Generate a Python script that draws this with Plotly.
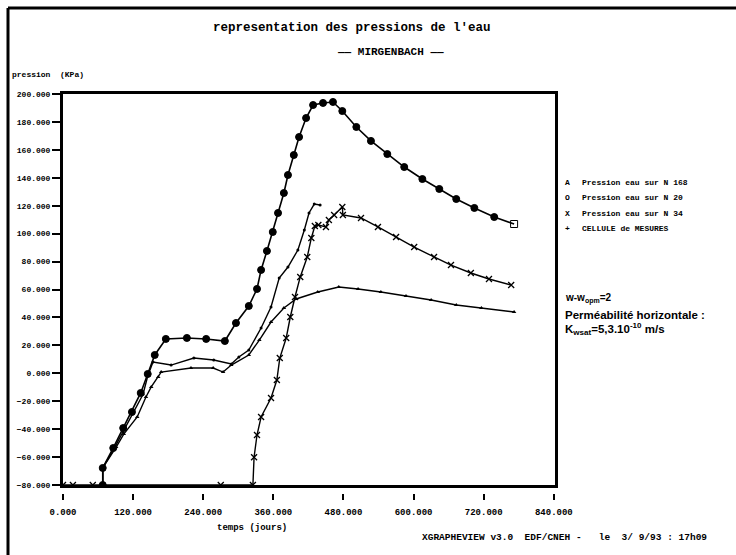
import plotly.graph_objects as go

# Time axis (days) and water pressure (kPa) for each measuring point
days_n168 = [68, 68, 86, 103, 118, 133, 145, 157, 176, 212, 245, 277, 296, 318, 332, 339, 349, 359,
             368, 378, 385, 395, 404, 416, 428, 445, 462, 478, 502, 527, 555, 584, 615, 644, 673,
             704, 738, 772]
p_n168 = [-80, -67.8, -53.5, -39.2, -27.7, -14.1, -0.5, 13.1, 24.6, 25.3, 24.6, 23.1, 36.0, 48.2,
          60.4, 74.0, 87.6, 101.2, 114.8, 129.1, 142.0, 156.3, 169.2, 182.8, 192.1, 193.6, 194.3,
          187.8, 176.4, 166.4, 157.0, 147.7, 139.1, 132.0, 124.8, 118.4, 111.9, 106.9]

days_n20 = [68, 68, 86, 103, 120, 137, 145, 154, 185, 224, 258, 288, 301, 318, 339, 356, 370, 385,
            402, 413, 421, 430, 440]
p_n20 = [-80, -67.8, -55, -42, -29, -15, -2, 8.1, 5.9, 10.9, 9.5, 6.7, 11.7, 16.7, 32.4, 47.5, 68.2,
         76.1, 88.3, 102.6, 114.8, 121.2, 120.5]

days_n34 = [0, 17, 51, 270, 325, 327, 332, 339, 356, 366, 371, 382, 389, 397, 406, 418, 425, 431,
            437, 450, 455, 464, 478, 479, 510, 539, 570, 601, 635, 664, 698, 729, 767]
p_n34 = [-80, -80, -80, -80, -80, -60.1, -44.2, -31.3, -17.7, -4.8, 10.9, 25.3, 40.3, 54.6, 69.0,
         83.3, 96.9, 105.5, 106.2, 104.8, 109.8, 113.4, 119.1, 113.4, 111.2, 104.8, 97.6, 90.4,
         83.3, 77.5, 71.8, 67.5, 63.2]

days_cell = [68, 68, 91, 104, 127, 142, 151, 163, 168, 219, 257, 274, 288, 318, 336, 356, 378, 399,
             436, 472, 505, 544, 587, 630, 673, 716, 772]
p_cell = [-80, -67.8, -52.8, -43.5, -31.3, -17.0, -9.8, -2.7, 0.9, 3.8, 3.8, 0.9, 5.9, 13.1, 23.8,
          36.7, 46.8, 53.2, 58.2, 61.8, 60.4, 58.2, 55.3, 52.5, 48.9, 46.8, 43.9]

x_ticks = [0, 120, 240, 360, 480, 600, 720, 840]
y_ticks = list(range(-80, 201, 20))

legend_symbols = ["A", "O", "X", "+"]
legend_labels = ["Pression eau sur N 168", "Pression eau sur N 20",
                 "Pression eau sur N 34", "CELLULE de MESURES"]

MONO = "Liberation Mono"
SANS = "Liberation Sans"
W, H = 736, 555
# paper area in pixels (the frame bottom sits a little above the paper bottom so the
# detached time ticks can hang below it)
L, R, T, B = 63, 555, 94, 500
FRAME_B = 485
X_RANGE = [0, 842]

fig = go.Figure()

# N 168: large filled dots, open marker on the last point
sym_168 = ["circle"] * (len(days_n168) - 1) + ["square-open"]
fig.add_trace(go.Scatter(
    x=days_n168, y=p_n168, mode="lines+markers",
    line=dict(color="black", width=1.6),
    marker=dict(symbol=sym_168, size=7, color="black", line=dict(color="black", width=1))))

fig.add_trace(go.Scatter(
    x=days_n20, y=p_n20, mode="lines+markers",
    line=dict(color="black", width=1.4),
    marker=dict(symbol="circle", size=3, color="black")))

fig.add_trace(go.Scatter(
    x=days_n34, y=p_n34, mode="lines+markers",
    line=dict(color="black", width=1.4),
    marker=dict(symbol="x-thin-open", size=6, color="black", line=dict(color="black", width=1.3))))

fig.add_trace(go.Scatter(
    x=days_cell, y=p_cell, mode="lines+markers",
    line=dict(color="black", width=1.4),
    marker=dict(symbol="triangle-up", size=4, color="black")))

fig.update_layout(
    width=W, height=H,
    margin=dict(l=L, r=W - R, t=T, b=H - B),
    paper_bgcolor="white", plot_bgcolor="white",
    showlegend=False,
    font=dict(family=MONO, color="black"),
    xaxis=dict(
        range=X_RANGE, showticklabels=False, ticks="",
        showline=True, linecolor="black", linewidth=3, mirror=True,
        showgrid=False, zeroline=False,
    ),
    # time scale drawn slightly below the frame, with short detached ticks
    xaxis2=dict(
        range=X_RANGE, overlaying="x", anchor="free",
        position=(B - 493) / (B - T),
        tickvals=x_ticks, tickformat=".3f",
        showline=False, showgrid=False, zeroline=False,
        ticks="outside", ticklen=6, tickwidth=2, tickcolor="black",
        ticklabelstandoff=4,
        tickfont=dict(family=MONO, size=9, color="black", weight="bold"),
    ),
    yaxis=dict(
        domain=[(B - FRAME_B) / (B - T), 1],
        range=[-80, 200], tickvals=y_ticks, tickformat=".3f",
        showline=True, linecolor="black", linewidth=3, mirror=True,
        ticks="outside", ticklen=8, tickwidth=2, tickcolor="black",
        showgrid=False, zeroline=False,
        tickfont=dict(family=MONO, size=8, color="black", weight="bold"),
    ),
)

# keep the scale axis alive with an invisible copy of one series
fig.add_trace(go.Scatter(x=days_cell, y=p_cell, xaxis="x2", mode="lines",
                         line=dict(width=0), opacity=0, hoverinfo="skip"))


def px(x):
    # page pixel -> paper fraction
    return (x - L) / (R - L)


def py(y):
    return (B - y) / (B - T)


def note(text, x, y, size, family=MONO, anchor="left", bold=True):
    fig.add_annotation(
        text=text, x=px(x), y=py(y), xref="paper", yref="paper",
        xanchor=anchor, yanchor="middle", showarrow=False,
        font=dict(family=family, size=size, color="black", weight="bold" if bold else "normal"))


# Titles
note("representation des pressions de l'eau", 352, 28, 12.5, anchor="center")
note("—— MIRGENBACH ——", 390, 52, 11, anchor="center")
note("pression  (KPa)", 10, 75, 8)
note("temps (jours)", 252, 528, 9, anchor="center")
note("XGRAPHEVIEW v3.0  EDF/CNEH -   le  3/ 9/93 : 17h09", 420, 537, 9.5)

# Legend
for i, (s, lab) in enumerate(zip(legend_symbols, legend_labels)):
    yy = 182 + i * 15.5
    note(s, 567, yy, 8, anchor="center")
    note(lab, 580, yy, 8)

# Model parameters
note("w-w<sub>opm</sub>=2", 563, 298, 10, family=SANS)
note("Perméabilité horizontale :", 563, 315, 11.5, family=SANS)
note("K<sub>wsat</sub>=5,3.10<sup>-10</sup> m/s", 563, 329, 11.5, family=SANS)

# Page frame (left and top edges)
fig.add_shape(type="line", xref="paper", yref="paper", x0=px(8), x1=px(8), y0=py(555), y1=py(8),
              line=dict(color="black", width=3))
fig.add_shape(type="line", xref="paper", yref="paper", x0=px(8), x1=px(736), y0=py(8), y1=py(8),
              line=dict(color="black", width=3))

fig.write_html("out.html")
